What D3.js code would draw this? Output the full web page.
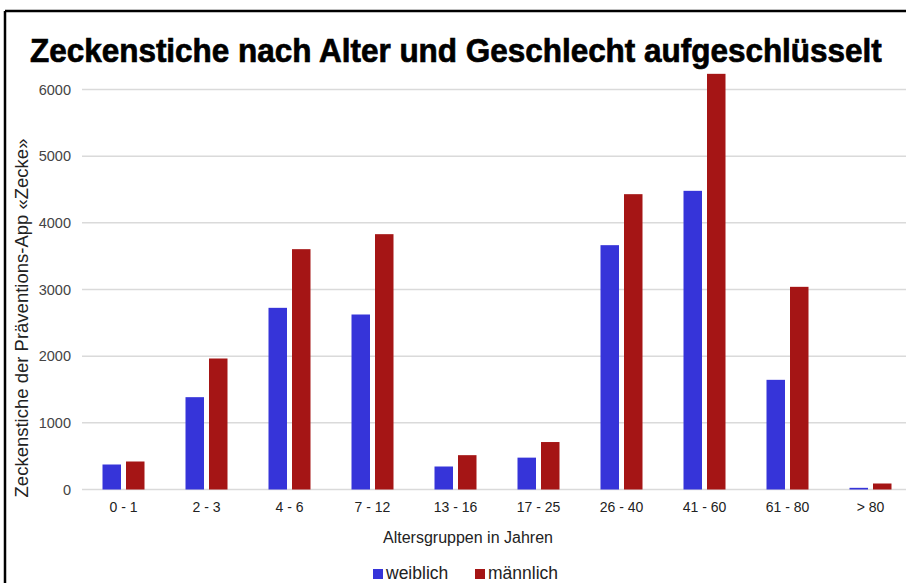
<!DOCTYPE html>
<html>
<head>
<meta charset="utf-8">
<script src="https://cdn.jsdelivr.net/npm/d3@7"></script>
<style>
  body { margin: 0; background: #fff; }
  svg { display: block; font-family: "Liberation Sans", Arial, sans-serif; }
</style>
</head>
<body>
<script>
// age groups and counts
const categories = ['0 - 1', '2 - 3', '4 - 6', '7 - 12', '13 - 16', '17 - 25', '26 - 40', '41 - 60', '61 - 80', '> 80'];
const seriesNames = ['weiblich', 'männlich'];
const weiblich = [375, 1385, 2725, 2625, 345, 478, 3665, 4480, 1645, 25];
const maennlich = [420, 1965, 3605, 3830, 515, 712, 4430, 6235, 3040, 90];
const yTicks = [0, 1000, 2000, 3000, 4000, 5000, 6000];
const colors = ['#3634d9', '#a51515'];

const W = 906, H = 583;
const svg = d3.select('body').append('svg')
  .attr('width', W)
  .attr('height', H);

svg.append('rect').attr('width', W).attr('height', H).attr('fill', '#fff');

// frame (top and left edges visible)
svg.append('line').attr('x1', 5).attr('y1', 11).attr('x2', W).attr('y2', 11)
  .attr('stroke', '#000').attr('stroke-width', 2.5);
svg.append('line').attr('x1', 5).attr('y1', 11).attr('x2', 5).attr('y2', H)
  .attr('stroke', '#000').attr('stroke-width', 2.5);

// title: squeeze it to the width of the original, a bit taller
const title = svg.append('text')
  .attr('font-size', 28).attr('font-weight', 'bold').attr('fill', '#000')
  .attr('stroke', '#000').attr('stroke-width', 0.6)
  .text('Zeckenstiche nach Alter und Geschlecht aufgeschlüsselt');
const tLen = title.node().getComputedTextLength();
title.attr('transform', `translate(30,62) scale(${852 / tLen},1.18)`);

const x = d3.scaleBand().domain(categories).range([82, 912])
  .paddingInner(0.494).paddingOuter(0.247);
const xs = d3.scaleBand().domain(seriesNames).range([0, x.bandwidth()]).paddingInner(0.213);
const y = d3.scaleLinear().domain([0, 6000]).range([489.5, 89.5]);

// gridlines + y labels
const yAxis = svg.append('g');
yAxis.selectAll('line').data(yTicks).enter().append('line')
  .attr('x1', 82).attr('x2', W)
  .attr('y1', d => y(d)).attr('y2', d => y(d))
  .attr('stroke', '#dadada').attr('stroke-width', 1.5);
yAxis.selectAll('text').data(yTicks).enter().append('text')
  .attr('x', 71).attr('y', d => y(d) + 5)
  .attr('text-anchor', 'end').attr('font-size', 14.5).attr('fill', '#444')
  .text(d => d);

const rows = categories.map((c, i) => ({ cat: c, vals: [weiblich[i], maennlich[i]] }));
const groups = svg.selectAll('g.grp').data(rows).enter().append('g')
  .attr('class', 'grp')
  .attr('transform', d => `translate(${x(d.cat)},0)`);
groups.selectAll('rect').data(d => d.vals.map((v, k) => ({ name: seriesNames[k], v, k }))).enter()
  .append('rect')
  .attr('x', d => xs(d.name))
  .attr('width', xs.bandwidth())
  .attr('y', d => y(d.v))
  .attr('height', d => y(0) - y(d.v))
  .attr('fill', d => colors[d.k]);

// x labels
svg.selectAll('text.xl').data(categories).enter().append('text')
  .attr('class', 'xl')
  .attr('x', d => x(d) + x.bandwidth() / 2).attr('y', 512)
  .attr('text-anchor', 'middle').attr('font-size', 14).attr('fill', '#222')
  .text(d => d);

svg.append('text')
  .attr('x', 468).attr('y', 543)
  .attr('text-anchor', 'middle').attr('font-size', 16).attr('fill', '#222')
  .text('Altersgruppen in Jahren');

svg.append('text')
  .attr('transform', 'translate(28,318) rotate(-90)')
  .attr('text-anchor', 'middle').attr('font-size', 18.5).attr('fill', '#222')
  .text('Zeckenstiche der Präventions-App «Zecke»');

// legend
const legX = [373, 475];
const leg = svg.selectAll('g.leg').data(seriesNames).enter().append('g')
  .attr('class', 'leg')
  .attr('transform', (d, i) => `translate(${legX[i]},0)`);
leg.append('rect').attr('x', 0).attr('y', 569).attr('width', 10).attr('height', 10)
  .attr('fill', (d, i) => colors[i]);
leg.append('text').attr('x', 13).attr('y', 579)
  .attr('font-size', 17.5).attr('fill', '#222')
  .text(d => d);
</script>
</body>
</html>
